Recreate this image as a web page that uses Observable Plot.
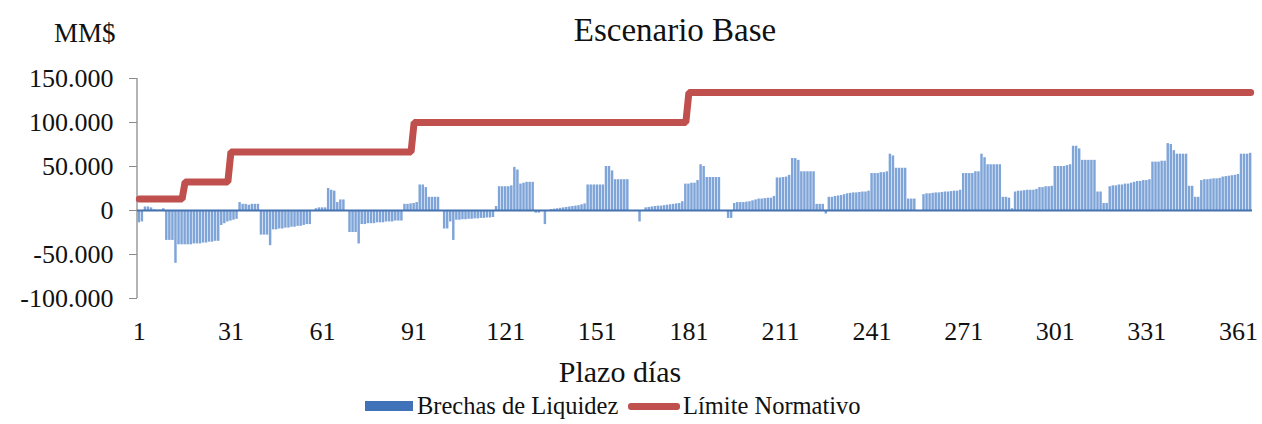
<!DOCTYPE html>
<html><head><meta charset="utf-8">
<script src="https://cdn.jsdelivr.net/npm/d3@7"></script>
<script src="https://cdn.jsdelivr.net/npm/@observablehq/plot@0.6"></script>
<style>
body{margin:0;background:#fff;}
#wrap{position:relative;width:1262px;height:424px;font-family:"Liberation Serif","Times New Roman",serif;color:#111;overflow:hidden;}
#wrap svg{position:absolute;left:0;top:0;}
.t{position:absolute;white-space:nowrap;line-height:1;}
.sw{position:absolute;}
</style></head><body>
<div id="wrap">
  <div class="t" id="title" style="font-size:33px;top:14px;left:675px;transform:translateX(-50%);">Escenario Base</div>
  <div class="t" id="unit" style="font-size:27px;top:20px;left:54px;">MM$</div>
  <div class="t" id="xlabel" style="font-size:30px;top:357px;left:620px;transform:translateX(-50%);">Plazo días</div>
  <div class="sw" style="left:365px;top:401px;width:48px;height:10px;background:#3f72b8;"></div>
  <div class="t" style="font-size:24.5px;top:394px;left:417px;">Brechas de Liquidez</div>
  <div class="sw" style="left:628px;top:403px;width:52px;height:7px;background:#c0504d;border-radius:3px;"></div>
  <div class="t" style="font-size:24.5px;top:394px;left:683px;">Límite Normativo</div>
</div>
<script>
// Plazo (días) 1..365
const days = d3.range(1, 366);
// Brechas de Liquidez (MM$), one value per day
const brechas = [
  -14000, -13000, 4000, 4000, 3000, 1000, 500, 500, 2000, -34000,
  -34000, -34000, -60000, -39000, -39000, -39000, -39000, -39000, -38000, -38000,
  -38000, -37000, -37000, -36000, -36000, -35000, -35000, -17000, -15000, -13000,
  -12000, -11000, -10000, 9000, 7000, 7000, 6000, 7000, 7000, 7000,
  -28000, -28000, -28000, -40000, -22000, -22000, -21000, -21000, -20000, -20000,
  -19000, -19000, -18000, -18000, -17000, -16000, -16000, 0, 2000, 3000,
  3000, 3000, 25000, 23000, 22000, 9000, 12000, 12000, 0, -25000,
  -25000, -25000, -38000, -16000, -16000, -15000, -15000, -15000, -14000, -14000,
  -14000, -13000, -13000, -13000, -12000, -12000, -12000, 7000, 7000, 7500,
  8000, 9000, 29000, 29000, 26000, 15000, 15000, 15000, 15000, 0,
  -21000, -21000, -13000, -34000, -11000, -11000, -10500, -10500, -10000, -10000,
  -9500, -9500, -9000, -9000, -8500, -8500, -8000, 4500, 27000, 27000,
  27000, 27000, 28000, 49000, 46000, 30000, 31000, 32000, 32000, 32000,
  -3000, -3000, 0, -16000, 0, 1000, 1500, 2000, 2500, 3000,
  3500, 4000, 4500, 5000, 5500, 6500, 7500, 29000, 29000, 29000,
  29000, 29000, 29000, 50000, 50000, 45000, 35000, 35000, 35000, 35000,
  35000, 0, 0, 0, -13000, 0, 3000, 3500, 4000, 4500,
  5000, 5000, 5500, 6000, 6500, 7000, 7500, 8000, 10000, 30000,
  30000, 31000, 31000, 34000, 52000, 50000, 37500, 37500, 37500, 37500,
  37500, 0, 0, -9000, -9000, 8000, 9000, 9000, 9000, 9500,
  10000, 11000, 12000, 13000, 13000, 13500, 14000, 14000, 16000, 37000,
  37000, 37500, 38000, 40000, 59000, 59000, 57000, 44000, 44000, 44000,
  44000, 44000, 7000, 7000, 7000, -4000, 15000, 15000, 16000, 16500,
  17000, 18000, 19000, 19500, 20000, 20000, 20500, 21000, 21000, 22000,
  42000, 42000, 42000, 43000, 43000, 44000, 64000, 62000, 48000, 48000,
  48000, 48000, 13000, 13000, 13000, 0, 0, 18000, 19000, 19000,
  19500, 20000, 20000, 20500, 21000, 21000, 21500, 22000, 22000, 23000,
  42000, 42000, 42000, 42000, 44000, 44000, 64000, 60000, 52000, 52000,
  52000, 52000, 52000, 15000, 15000, 14000, 2000, 21000, 22000, 22000,
  22500, 23000, 23000, 23000, 24000, 26000, 26000, 27000, 27000, 27500,
  50000, 50000, 50000, 50000, 51000, 52000, 73000, 73000, 70000, 57000,
  57000, 57000, 57000, 57000, 21000, 21000, 8000, 8000, 27000, 28000,
  28000, 29000, 29000, 30000, 30000, 31000, 32000, 33000, 33000, 34000,
  34000, 35000, 55000, 55000, 55000, 56000, 56000, 76000, 75000, 68000,
  64000, 64000, 64000, 64000, 27500, 27500, 15000, 15000, 34000, 35000,
  35000, 35500, 36000, 36000, 36500, 38000, 38500, 39000, 39500, 40000,
  41000, 64000, 64000, 64000, 65000
];
// Límite Normativo: first day of each bracket and its value (MM$)
const limiteDesde = [1, 16, 31, 91, 181];
const limiteValor = [13000, 32500, 66500, 100000, 134000];
// Axis ticks
const xTicks = [1, 31, 61, 91, 121, 151, 181, 211, 241, 271, 301, 331, 361];
const yTicks = [-100000, -50000, 0, 50000, 100000, 150000];

const fmt = d3.formatLocale({decimal: ",", thousands: ".", grouping: [3], currency: ["$", ""], minus: "-"}).format(",");

const barData = days.map((d, i) => ({day: d, value: brechas[i]}));
const limitData = days.map(d => {
  let v = limiteValor[0];
  limiteDesde.forEach((s, k) => { if (d >= s) v = limiteValor[k]; });
  return {day: d, value: v};
});

// vertical value-axis line drawn from the y scale's extent
const yAxisLine = (index, scales, values, dims) => {
  const [y0, y1] = d3.extent(yTicks).map(scales.y);
  const ln = d3.create("svg:line")
    .attr("x1", dims.marginLeft).attr("x2", dims.marginLeft)
    .attr("y1", y0).attr("y2", y1)
    .attr("stroke", "#8c8c8c").attr("stroke-width", 1.3);
  return ln.node();
};

const chart = Plot.plot({
  width: 1262, height: 424,
  marginLeft: 137, marginRight: 10, marginTop: 78, marginBottom: 126,
  style: {fontFamily: "'Liberation Serif', 'Times New Roman', serif", fontSize: "26px", color: "#111", background: "transparent", overflow: "visible"},
  x: {type: "band", domain: days, padding: 0.2, round: false, axis: null},
  y: {domain: [-100000, 150000], axis: null},
  marks: [
    Plot.axisY({ticks: yTicks, tickFormat: fmt, tickSize: 8, tickPadding: 16, stroke: "#8c8c8c", fill: "#111", fontSize: 26, label: null}),
    yAxisLine,
    Plot.axisX({ticks: xTicks, tickSize: 0, tickPadding: 23, fill: "#111", fontSize: 26, label: null}),
    Plot.barY(barData, {x: "day", y: "value", fill: "#7ea4d8"}),
    Plot.ruleY([0], {stroke: "#4672b0", strokeWidth: 2}),
    Plot.line(limitData, {x: "day", y: "value", stroke: "#c0504d", strokeWidth: 7, strokeLinejoin: "miter"})
  ]
});
document.getElementById("wrap").prepend(chart);
</script>
</body></html>
